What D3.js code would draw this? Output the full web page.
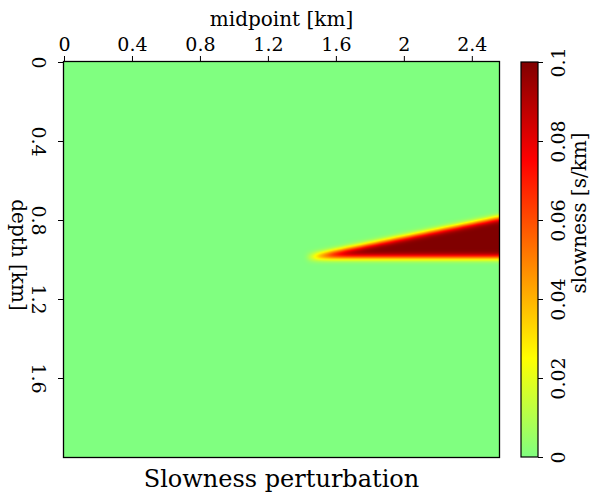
<!DOCTYPE html>
<html>
<head>
<meta charset="utf-8">
<script src="https://cdn.jsdelivr.net/npm/d3@7"></script>
<style>
  html, body { margin: 0; padding: 0; background: #fff; }
  svg { display: block; }
  text { font-family: "DejaVu Serif", "Liberation Serif", serif; fill: #000; }
</style>
</head>
<body>
<svg id="chart" width="594" height="498"></svg>
<script>
// Model extent [km]
const midpointRange = [0, 2.56];
const depthRange = [0, 2.0];

// Wedge-shaped slowness anomaly: outline vertices (midpoint, depth) in km
const wedgeMidpoint = [1.42, 2.56, 2.56];
const wedgeDepth = [0.99, 0.79, 0.99];
const wedgeSlowness = 0.1;      // s/km inside the wedge
const smoothingKm = 0.016;      // gaussian taper of the anomaly edges

// Axis ticks
const midpointTicks = [0, 0.4, 0.8, 1.2, 1.6, 2.0, 2.4];
const depthTicks = [0, 0.4, 0.8, 1.2, 1.6];
const slownessTicks = [0, 0.02, 0.04, 0.06, 0.08, 0.1];
const slownessRange = [0, 0.1];

// Colour ramp: green -> yellow -> red -> dark red
const rampStops = [0, 0.25, 0.75, 1];
const rampColors = ["#80ff80", "#ffff00", "#ff0000", "#800000"];

const svg = d3.select("#chart");
const plot = { left: 64, right: 499, top: 62, bottom: 457 };
const bar = { left: 521, right: 538 };
const tickFont = "19px";
const labelFont = "20px";

const x = d3.scaleLinear().domain(midpointRange).range([plot.left, plot.right]);
const y = d3.scaleLinear().domain(depthRange).range([plot.top, plot.bottom]);
const cScale = d3.scaleLinear().domain(slownessRange).range([0, 1]).clamp(true);
const ramp = d3.scaleLinear().domain(rampStops).range(rampColors).interpolate(d3.interpolateRgb);
const color = v => ramp(cScale(v));

// ---- rasterise the anomaly on a model grid and taper its edges ----
const dx = 0.005;
const nx = Math.round((midpointRange[1] - midpointRange[0]) / dx);
const nz = Math.round((depthRange[1] - depthRange[0]) / dx);
const poly = wedgeMidpoint.map((m, i) => [m, wedgeDepth[i]]);
let field = new Float32Array(nx * nz);
for (let j = 0; j < nz; j++) {
  const zz = depthRange[0] + (j + 0.5) * dx;
  for (let i = 0; i < nx; i++) {
    const xx = midpointRange[0] + (i + 0.5) * dx;
    field[j * nx + i] = d3.polygonContains(poly, [xx, zz]) ? wedgeSlowness : 0;
  }
}
// separable gaussian smoothing (edge values extended)
const sig = smoothingKm / dx;
const rad = Math.ceil(sig * 3);
const kern = d3.range(-rad, rad + 1).map(k => Math.exp(-0.5 * (k / sig) ** 2));
const ksum = d3.sum(kern);
function blur(src, w, h, horizontal) {
  const out = new Float32Array(w * h);
  for (let j = 0; j < h; j++) {
    for (let i = 0; i < w; i++) {
      let s = 0;
      for (let k = -rad; k <= rad; k++) {
        let ii = i, jj = j;
        if (horizontal) ii = Math.min(w - 1, Math.max(0, i + k));
        else jj = Math.min(h - 1, Math.max(0, j + k));
        s += src[jj * w + ii] * kern[k + rad];
      }
      out[j * w + i] = s / ksum;
    }
  }
  return out;
}
field = blur(blur(field, nx, nz, true), nx, nz, false);

const canvas = document.createElement("canvas");
canvas.width = nx; canvas.height = nz;
const ctx = canvas.getContext("2d");
const img = ctx.createImageData(nx, nz);
for (let p = 0; p < nx * nz; p++) {
  const c = d3.rgb(color(field[p]));
  img.data[p * 4] = c.r; img.data[p * 4 + 1] = c.g; img.data[p * 4 + 2] = c.b; img.data[p * 4 + 3] = 255;
}
ctx.putImageData(img, 0, 0);

svg.append("image")
  .attr("x", x(midpointRange[0])).attr("y", y(depthRange[0]))
  .attr("width", x(midpointRange[1]) - x(midpointRange[0]))
  .attr("height", y(depthRange[1]) - y(depthRange[0]))
  .attr("preserveAspectRatio", "none")
  .attr("href", canvas.toDataURL());

svg.append("rect")
  .attr("x", plot.left - 0.5).attr("y", plot.top - 0.5)
  .attr("width", plot.right - plot.left + 1).attr("height", plot.bottom - plot.top + 1)
  .attr("fill", "none").attr("stroke", "#000").attr("stroke-width", 1.3);

// ---- axes ----
const xAxis = svg.append("g").attr("transform", `translate(0,${plot.top - 1})`)
  .call(d3.axisTop(x).tickValues(midpointTicks).tickSize(5).tickPadding(5)
    .tickFormat(d => d3.format("~g")(d)));
xAxis.select(".domain").remove();
xAxis.selectAll("text").style("font-size", tickFont).style("font-family", "DejaVu Serif");

svg.append("text").attr("x", (plot.left + plot.right) / 2).attr("y", 26)
  .attr("text-anchor", "middle").style("font-size", labelFont).text("midpoint [km]");

const yAxis = svg.append("g").attr("transform", `translate(${plot.left - 1},0)`)
  .call(d3.axisLeft(y).tickValues(depthTicks).tickSize(5).tickFormat(d => d3.format("~g")(d)));
yAxis.select(".domain").remove();
yAxis.selectAll("text")
  .attr("x", null).attr("dy", null)
  .attr("text-anchor", "middle").attr("dominant-baseline", "central")
  .attr("transform", "translate(-24,0) rotate(90)")
  .style("font-size", tickFont).style("font-family", "DejaVu Serif");

svg.append("text")
  .attr("transform", `translate(19,255) rotate(90)`)
  .attr("text-anchor", "middle").attr("dominant-baseline", "central")
  .style("font-size", labelFont).text("depth [km]");

// ---- colour bar ----
const defs = svg.append("defs");
const grad = defs.append("linearGradient").attr("id", "ramp")
  .attr("x1", 0).attr("y1", 1).attr("x2", 0).attr("y2", 0);
rampStops.forEach((s, i) => grad.append("stop").attr("offset", s).attr("stop-color", rampColors[i]));

const cy = d3.scaleLinear().domain(slownessRange).range([plot.bottom, plot.top]);
svg.append("rect")
  .attr("x", bar.left).attr("y", plot.top).attr("width", bar.right - bar.left)
  .attr("height", plot.bottom - plot.top).attr("fill", "url(#ramp)")
  .attr("stroke", "#000").attr("stroke-width", 1.2);

const cAxis = svg.append("g").attr("transform", `translate(${bar.right},0)`)
  .call(d3.axisRight(cy).tickValues(slownessTicks).tickSize(5).tickFormat(d => d3.format("~g")(d)));
cAxis.select(".domain").remove();
cAxis.selectAll("text")
  .attr("x", null).attr("dy", null)
  .attr("text-anchor", "middle").attr("dominant-baseline", "central")
  .attr("transform", "translate(20,0) rotate(-90)")
  .style("font-size", tickFont).style("font-family", "DejaVu Serif");

svg.append("text")
  .attr("transform", `translate(579,213) rotate(-90)`)
  .attr("text-anchor", "middle").attr("dominant-baseline", "central")
  .style("font-size", labelFont).text("slowness [s/km]");

// ---- title ----
svg.append("text").attr("x", (plot.left + plot.right) / 2).attr("y", 487)
  .attr("text-anchor", "middle").style("font-size", "24px").text("Slowness perturbation");
</script>
</body>
</html>
